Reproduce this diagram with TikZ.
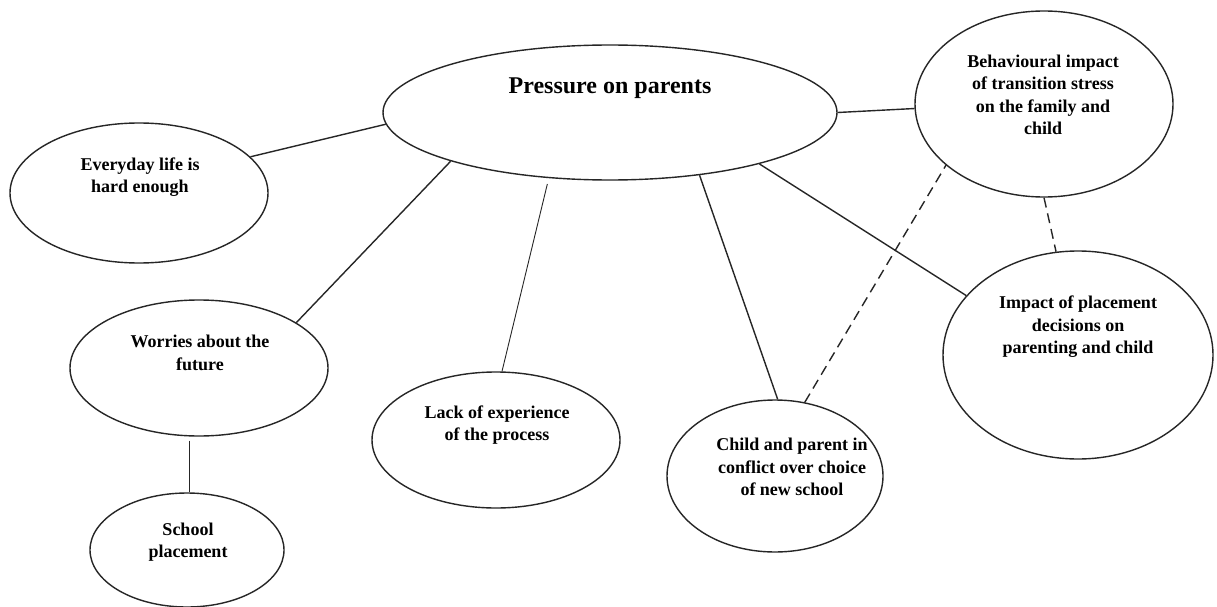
\documentclass[tikz,border=0pt]{standalone}
\usepackage{fontspec}
\setmainfont{Liberation Serif}
\usetikzlibrary{shapes.geometric}

\begin{document}
\begin{tikzpicture}[x=1pt, y=-1pt,
  bubble/.style={draw=black!85, line width=1.4pt, ellipse, inner sep=0pt, fill=white},
  caption/.style={align=center, inner sep=0pt, font=\fontsize{18}{22.5}\selectfont\bfseries, text=black},
  link/.style={draw=black!85, line width=1.4pt},
  dlink/.style={link, dash pattern=on 10pt off 6pt}]

\useasboundingbox[fill=white] (0,0) rectangle (1217,607);

% outlines
\node[bubble, minimum width=454pt, minimum height=135pt] (press)  at (610,112.5) {};
\node[bubble, minimum width=258pt, minimum height=140pt] (every)  at (139,193) {};
\node[bubble, minimum width=258pt, minimum height=136pt] (worry)  at (199,368) {};
\node[bubble, minimum width=194pt, minimum height=114pt] (school) at (187,550) {};
\node[bubble, minimum width=248pt, minimum height=136pt] (lack)   at (496,440) {};
\node[bubble, minimum width=216pt, minimum height=152pt] (child)  at (775,476) {};
\node[bubble, minimum width=258pt, minimum height=186pt] (behav)  at (1044,104) {};
\node[bubble, minimum width=270pt, minimum height=208pt] (impact) at (1078,355) {};

% labels
\node[caption, font=\fontsize{24}{28}\selectfont\bfseries] (press-t) at (610,88) {Pressure on parents};
\node[caption] (every-t)  at (140,177) {Everyday life is\\hard enough};
\node[caption] (worry-t)  at (200,353) {Worries about the\\future};
\node[caption] (school-t) at (188,542) {School\\placement};
\node[caption] (lack-t)   at (497,425) {Lack of experience\\of the process};
\node[caption] (child-t)  at (792,467) {Child and parent in\\conflict over choice\\of new school};
\node[caption] (behav-t)  at (1043,95) {Behavioural impact\\of transition stress\\on the family and\\child};
\node[caption] (impact-t) at (1078,327) {Impact of placement\\decisions on\\parenting and child};

% solid connectors
\draw[link] (press.183) -- (every.18);
\draw[link] (press.197) -- (worry.25.6);
\draw[link, line width=0.9pt, shorten <=6pt] (press.227) -- (lack.85);
\draw[link] (press.325.5) -- (child.88);
\draw[link] (press.341.6) -- (impact.152);
\draw[link] (press.0.6) -- (behav.182.7);
\draw[link, shorten <=4pt] (worry.262) -- (worry.262 |- school.north);

% dashed connectors
\draw[dlink] (child.68) -- (behav.212.9);
\draw[dlink] (behav.270.5) -- (impact.102);

\end{tikzpicture}
\end{document}
